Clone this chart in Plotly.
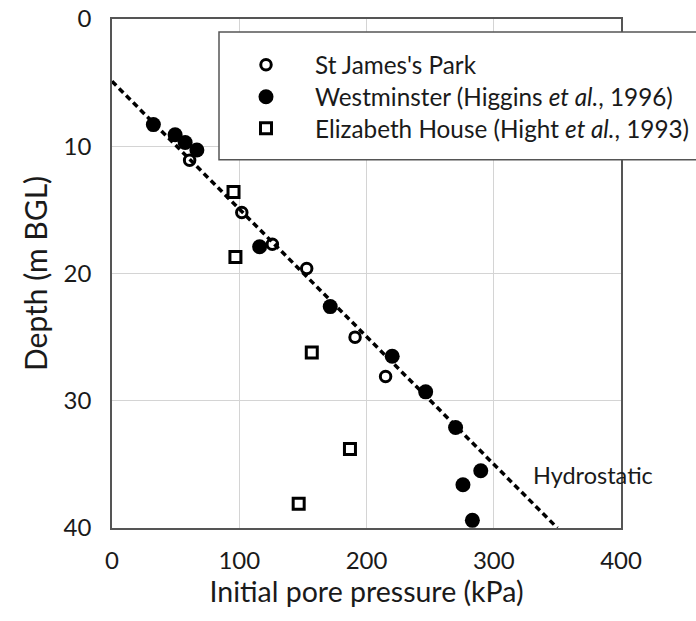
import plotly.graph_objects as go

# St James's Park (open circles)
sj_pressure = [61, 102, 126, 153, 191, 215]
sj_depth = [11.1, 15.2, 17.7, 19.6, 25.0, 28.1]

# Westminster (Higgins et al., 1996) (filled circles)
wm_pressure = [32.5, 49.6, 57.5, 66.7, 116, 171.5, 220.2, 246.5, 270, 289.8, 275.8, 283.2]
wm_depth = [8.3, 9.1, 9.7, 10.3, 17.9, 22.6, 26.5, 29.3, 32.1, 35.5, 36.6, 39.4]

# Elizabeth House (Hight et al., 1993) (open squares)
eh_pressure = [95.5, 97, 157, 187, 146.7]
eh_depth = [13.6, 18.7, 26.2, 33.8, 38.1]

# Hydrostatic line
hy_pressure = [0, 350]
hy_depth = [4.9, 40.0]

x_ticks = [0, 100, 200, 300, 400]
y_ticks = [0, 10, 20, 30, 40]

FONT = "Lato"
TXT = "#1a1a1a"

fig = go.Figure()
fig.add_trace(go.Scatter(x=hy_pressure, y=hy_depth, mode="lines",
                         line=dict(color="black", width=3.5, dash="6px,4px"),
                         showlegend=False, hoverinfo="skip"))
fig.add_trace(go.Scatter(x=sj_pressure, y=sj_depth, mode="markers", name="St James's Park",
                         legend="legend",
                         marker=dict(symbol="circle-open", size=10.5, color="black",
                                     line=dict(width=3, color="black"))))
fig.add_trace(go.Scatter(x=wm_pressure, y=wm_depth, mode="markers",
                         name="Westminster (Higgins <i>et al.</i>, 1996)",
                         legend="legend2",
                         marker=dict(symbol="circle", size=15, color="black")))
fig.add_trace(go.Scatter(x=eh_pressure, y=eh_depth, mode="markers",
                         name="Elizabeth House (Hight <i>et al.</i>, 1993)",
                         legend="legend3",
                         marker=dict(symbol="square-open", size=11, color="black",
                                     line=dict(width=3, color="black"))))

fig.add_annotation(x=329, y=35.8, text="Hydrostatic", showarrow=False,
                   xanchor="left", yanchor="middle",
                   font=dict(family=FONT, size=23.5, color=TXT))

# legend box
fig.add_shape(type="rect", xref="paper", yref="paper",
              x0=(219 - 112) / 509, x1=(700 - 112) / 509,
              y0=(528.5 - 160) / 509.5, y1=(528.5 - 32) / 509.5,
              fillcolor="white", line=dict(color="#555555", width=1.5), layer="above")


def leg(row_px):
    return dict(x=(217 - 112) / 509, y=(528.5 - row_px) / 509.5, xanchor="left", yanchor="middle",
                bgcolor="rgba(0,0,0,0)", borderwidth=0,
                font=dict(family=FONT, size=24.3, color=TXT), itemwidth=88)


fig.update_layout(
    width=696, height=621,
    margin=dict(l=112, r=75, t=19, b=92.5, autoexpand=False),
    paper_bgcolor="white", plot_bgcolor="white",
    font=dict(family=FONT, color=TXT),
    legend=leg(65), legend2=leg(97), legend3=leg(128.5),
    xaxis=dict(range=[0, 400], tickvals=x_ticks, showgrid=True, gridcolor="#d4d4d4", gridwidth=1,
               showline=True, linecolor="#555555", linewidth=1.5, mirror=True,
               zeroline=False, ticks="", ticklabelstandoff=10,
               tickfont=dict(family=FONT, size=24, color=TXT),
               title=dict(text="Initial pore pressure (kPa)", standoff=10,
                          font=dict(family=FONT, size=28.5, color=TXT))),
    yaxis=dict(range=[40, 0], tickvals=y_ticks, showgrid=True, gridcolor="#d4d4d4", gridwidth=1,
               showline=True, linecolor="#555555", linewidth=1.5, mirror=True,
               zeroline=False, ticks="", ticklabelstandoff=14,
               tickfont=dict(family=FONT, size=24, color=TXT),
               title=dict(text="Depth (m BGL)", standoff=7,
                          font=dict(family=FONT, size=30, color=TXT))),
)

fig.write_html("out.html")
